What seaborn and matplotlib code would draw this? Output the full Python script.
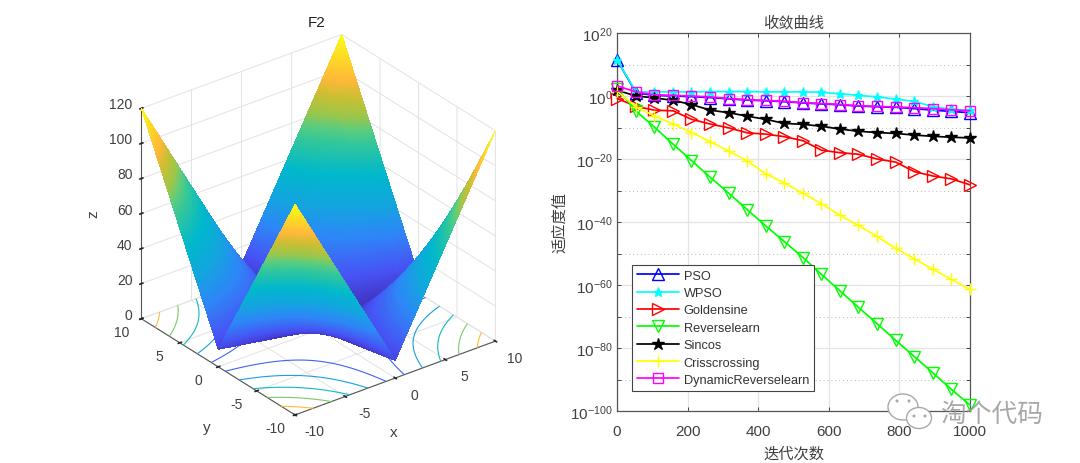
import matplotlib
matplotlib.use("Agg")
import matplotlib.pyplot as plt
from matplotlib.colors import LinearSegmentedColormap
from matplotlib.patches import Ellipse
from mpl_toolkits.mplot3d import proj3d
import numpy as np
import seaborn as sns

# convergence curves, log10 of best fitness
iters = [1, 54, 106, 159, 211, 264, 316, 369, 421, 474, 527, 579, 632, 684, 737, 790, 842, 895, 947, 1000]
pso = [11.3, 1.0, 0.2, 0.0, -0.2, -0.5, -0.9, -1.3, -1.5, -1.8, -2.2, -2.5, -2.8, -3.2, -3.4, -3.6, -4.0, -4.5, -4.9, -5.3]
wpso = [11.3, 1.3, 1.3, 1.3, 1.3, 1.4, 1.4, 1.4, 1.3, 1.3, 1.3, 1.2, 0.7, 0.2, -0.3, -1.0, -1.7, -3.4, -4.2, -4.5]
goldensine = [-0.8, -3.3, -4.5, -4.7, -7.4, -8.9, -10.1, -11.7, -12.1, -12.9, -14.2, -17.2, -18.0, -18.5, -20.0, -21.0, -24.0, -25.4, -26.3, -28.2]
reverselearn = [2.3, -4.8, -9.9, -15.3, -20.5, -25.8, -30.8, -36.1, -41.2, -46.2, -51.3, -56.6, -61.9, -67.1, -72.3, -77.6, -82.7, -87.9, -93.1, -98.1]
sincos = [1.8, 0.0, -0.6, -1.4, -2.7, -4.5, -5.3, -6.4, -7.4, -8.7, -9.0, -9.6, -10.5, -11.2, -11.6, -11.9, -12.4, -12.8, -13.1, -13.3]
crisscross = [1.5, -3.5, -6.3, -8.9, -11.6, -14.5, -17.5, -20.6, -24.7, -27.6, -30.9, -34.2, -37.9, -41.1, -44.6, -48.4, -51.7, -55.0, -58.2, -61.4]
dynamic = [3.2, 1.3, 0.4, 0.2, 0.0, -0.3, -0.8, -1.2, -1.4, -1.7, -2.1, -2.4, -2.7, -3.1, -3.3, -3.5, -3.7, -4.0, -4.4, -4.7]

xy_ticks = [-10, -5, 0, 5, 10]
z_ticks = [0, 20, 40, 60, 80, 100, 120]
contour_levels = [20, 40, 60, 80, 100]
x_ticks = [0, 200, 400, 600, 800, 1000]

parula = LinearSegmentedColormap.from_list("parula", [
    (0.0, (0.242, 0.150, 0.660)), (0.125, (0.281, 0.323, 0.958)), (0.25, (0.179, 0.529, 0.968)),
    (0.36, (0.070, 0.650, 0.870)), (0.47, (0.000, 0.720, 0.800)), (0.59, (0.200, 0.780, 0.600)),
    (0.64, (0.350, 0.800, 0.500)), (0.69, (0.600, 0.780, 0.300)), (0.76, (0.780, 0.750, 0.200)),
    (0.83, (1.000, 0.720, 0.220)), (1.0, (0.977, 0.984, 0.081))])

sns.set_theme(style="ticks")
plt.rcParams["font.family"] = ["Liberation Sans", "Noto Sans CJK SC", "DejaVu Sans"]
plt.rcParams["mathtext.default"] = "regular"
plt.rcParams["axes.unicode_minus"] = False
text_c = "#404040"
fig = plt.figure(figsize=(10.8, 4.64), dpi=100)

# left panel: the benchmark function F2 itself
ax3 = fig.add_axes([0.054, 0.0, 0.47, 1.0], projection="3d", computed_zorder=False)
grid = np.arange(-10, 10.01, 0.1)
X, Y = np.meshgrid(grid, grid)
Z = np.abs(X) + np.abs(Y) + np.abs(X) * np.abs(Y)
ax3.contour(X, Y, Z, levels=contour_levels, zdir="z", offset=0, cmap=parula, vmin=0, vmax=120, linewidths=0.8, zorder=1)
ax3.plot_surface(X, Y, Z, rstride=1, cstride=1, cmap=parula, vmin=0, vmax=120, linewidth=0, antialiased=False, shade=False, zorder=2)
ax3.set_proj_type("ortho")
ax3.view_init(elev=28.7, azim=-127.5)
ax3.set_box_aspect((1, 1, 0.95), zoom=0.90)
ax3.set_xlim(-10, 10, view_margin=0)
ax3.set_ylim(-10, 10, view_margin=0)
ax3.set_zlim(0, 120, view_margin=0)
ax3.set_xticks(xy_ticks, labels=[])
ax3.set_yticks(xy_ticks, labels=[])
ax3.set_zticks(z_ticks, labels=[])
for axis in (ax3.xaxis, ax3.yaxis, ax3.zaxis):
    axis.set_pane_color((1, 1, 1, 0))
    axis.pane.set_edgecolor("#e2e2e2")
    axis.line.set_color("#555555")
    axis.line.set_linewidth(0.8)
    axis._axinfo["grid"].update(color="#e2e2e2", linewidth=0.7)
    axis._axinfo["tick"].update(inward_factor=0.1, outward_factor=0.1)


def label3d(text, x, y, z, dx, dy, size=10, **kw):
    # mplot3d tick labels sit too close, so place them from the projected point
    px, py, _ = proj3d.proj_transform(x, y, z, ax3.get_proj())
    ax3.annotate(text, xy=(px, py), xytext=(dx * 0.72, -dy * 0.72), textcoords="offset points", fontsize=size,
                 color=text_c, annotation_clip=False, va="center", **kw)


for v in xy_ticks:
    label3d(str(v), v, -10, 0, 19, 16.5, ha="center")
    label3d(str(v), -10, v, 0, -20, 13.5, ha="center")
for v in z_ticks:
    label3d(str(v), -10, 10, v, -9, -4, ha="right")
label3d("x", 0, -10, 0, -2, 54, size=11, ha="center")
label3d("y", -10, 0, 0, -11, 60, size=11, ha="center")
label3d("z", -10, 10, 60, -48, 0, size=11, ha="center", rotation=90)
fig.text(317 / 1080, 1 - 27 / 464, "F2", fontsize=11, color="#222222", ha="center")

# right panel: convergence curves
ax = fig.add_axes([617 / 1080, 1 - 412 / 464, 353 / 1080, 378 / 464])
series = [
    ("PSO", pso, "#0000ff", "^", 9),
    ("WPSO", wpso, "#00ffff", "*", 6.5),
    ("Goldensine", goldensine, "#ff0000", ">", 9),
    ("Reverselearn", reverselearn, "#00ff00", "v", 9),
    ("Sincos", sincos, "#000000", "*", 9),
    ("Crisscrossing", crisscross, "#ffff00", "+", 8),
    ("DynamicReverselearn", dynamic, "#ff00ff", "s", 7.5),
]
for name, values, color, marker, size in series:
    filled = marker == "*"
    sns.lineplot(x=iters, y=10.0 ** np.array(values), ax=ax, label=name, color=color, marker=marker,
                 markersize=size, markerfacecolor=color if filled else "none", markeredgecolor=color,
                 markeredgewidth=1.0, linewidth=1.25, clip_on=False, errorbar=None, zorder=3)
ax.set_yscale("log")
ax.set_xlim(0, 1000)
ax.set_ylim(1e-100, 1e20)
ax.set_xticks(x_ticks)
ax.set_yticks([10.0 ** e for e in range(-100, 21, 20)])
ax.set_yticks([10.0 ** e for e in range(-90, 20, 20)], minor=True)
ax.yaxis.set_minor_formatter(matplotlib.ticker.NullFormatter())
ax.grid(True, which="major", color="#e4e4e4", linewidth=0.9)
ax.grid(True, which="minor", axis="y", color="#b5b5b5", linewidth=0.7, linestyle=(0, (1, 3)))
ax.tick_params(which="both", direction="in", length=3, width=0.7, color="#444444", top=True, right=True)
ax.tick_params(labelsize=11, labelcolor=text_c)
ax.tick_params(axis="x", pad=9)
ax.tick_params(axis="y", pad=3)
for s in ax.spines.values():
    s.set_color("#555555")
    s.set_linewidth(0.9)
ax.set_title("收敛曲线", fontsize=11, color=text_c, pad=5)
ax.set_xlabel("迭代次数", fontsize=11, color=text_c, labelpad=6)
ax.set_ylabel("适应度值", fontsize=11, color=text_c, labelpad=2)
leg = ax.legend(loc="lower left", bbox_to_anchor=(15 / 353, 20 / 378), borderaxespad=0, fontsize=9.2, frameon=True,
                fancybox=False, framealpha=1, edgecolor="#444444", labelspacing=0.42, handlelength=3.3,
                handletextpad=0.35, borderpad=0.4, labelcolor="#333333")
leg.get_frame().set_linewidth(0.8)
leg.set_zorder(5)

# watermark in the lower right corner
wm = "#a8a8a8"
for cx, cy, w, h in [(903, 408, 30, 26), (919, 419, 25, 21)]:
    fig.add_artist(Ellipse((cx / 1080, 1 - cy / 464), w / 1080, h / 464, transform=fig.transFigure,
                           facecolor="white", edgecolor=wm, linewidth=1.0, zorder=6))
for cx, cy in [(897, 402), (909, 402), (914, 417), (925, 417)]:
    fig.add_artist(Ellipse((cx / 1080, 1 - cy / 464), 3 / 1080, 3 / 464, transform=fig.transFigure,
                           facecolor=wm, edgecolor="none", zorder=7))
fig.text(992 / 1080, 1 - 415 / 464, "淘个代码", fontsize=18.5, color="#999999", ha="center", va="center", zorder=7, alpha=0.85)

fig.savefig("out.png", dpi=100)
